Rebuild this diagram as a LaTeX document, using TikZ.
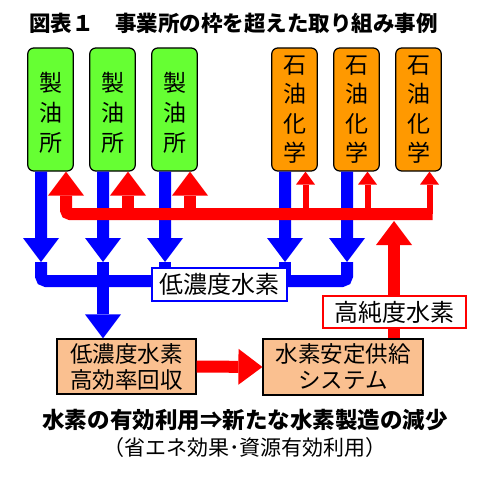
\documentclass[tikz,border=0pt]{standalone}
\usepackage{fontspec}
\setmainfont{Noto Sans CJK JP}
\usetikzlibrary{arrows.meta}
\definecolor{gfill}{HTML}{66FF33}
\definecolor{ofill}{HTML}{FF9900}
\definecolor{pfill}{HTML}{FAC090}
\definecolor{bl}{HTML}{0000FF}
\definecolor{rd}{HTML}{FF0000}
\begin{document}
\begin{tikzpicture}[x=1bp,y=-1bp,
  plant/.style={draw=black, line width=1.2bp, rounded corners=6bp, minimum width=45.5bp, minimum height=123bp, inner sep=0pt, align=center, font=\fontsize{23bp}{29.5bp}\selectfont},
  refinery/.style={plant, fill=gfill},
  chem/.style={plant, fill=ofill},
  vtext/.style={inner sep=0pt, align=center, font=\fontsize{23bp}{30bp}\selectfont},
  lower/.style={draw=black, line width=1.2bp, fill=pfill, inner sep=0pt, align=center, font=\fontsize{22.5bp}{26bp}\selectfont},
  tag/.style={fill=white, inner sep=0pt, font=\fontsize{24bp}{28bp}\selectfont},
  blueA/.style={draw=bl, line width=12bp, -{Triangle[width=36bp,length=24bp,line width=0pt]}},
  blueL/.style={draw=bl, line width=12bp},
  redA/.style={draw=rd, line width=12bp, -{Triangle[width=36bp,length=24bp,line width=0pt]}},
  redT/.style={draw=rd, line width=6bp, -{Triangle[width=19bp,length=13bp,line width=0pt]}},
  heading/.style={font=\bfseries\fontsize{21.5bp}{26bp}\selectfont, inner sep=0pt},
]
\useasboundingbox (0,0) rectangle (480,480);

\node[heading] (title) at (233.5,23) {図表１　事業所の枠を超えた取り組み事例};

\node[refinery] (g1) at (50.5,109.5) {};
\node[refinery] (g2) at (112.5,109.5) {};
\node[refinery] (g3) at (174.5,109.5) {};
\node[vtext] (g1t) at ([yshift=-3.5bp]g1.center) {製\\油\\所};
\node[vtext] (g2t) at ([yshift=-3.5bp]g2.center) {製\\油\\所};
\node[vtext] (g3t) at ([yshift=-3.5bp]g3.center) {製\\油\\所};
\node[chem] (o1) at (294.5,109.5) {石\\油\\化\\学};
\node[chem] (o2) at (356.5,109.5) {石\\油\\化\\学};
\node[chem] (o3) at (418.5,109.5) {石\\油\\化\\学};

\node[lower, minimum width=139bp, minimum height=55bp] (b1) at (126.5,366.5) {低濃度水素\\高効率回収};
\node[lower, minimum width=160bp, minimum height=56bp] (b2) at (343,367) {水素安定供給\\システム};

% blue (low concentration hydrogen)
\coordinate (t1) at (41,262);
\coordinate (t2) at (103,262);
\coordinate (t3) at (165,262);
\coordinate (t4) at (285,262);
\coordinate (t5) at (347,262);
\coordinate (bj) at (103,281);
\draw[blueA] ([xshift=-9.5bp]g1.south) -- (t1);
\draw[blueA] ([xshift=-9.5bp]g2.south) -- (t2);
\draw[blueA] ([xshift=-9.5bp]g3.south) -- (t3);
\draw[blueA] ([xshift=-9.5bp]o1.south) -- (t4);
\draw[blueA] ([xshift=-9.5bp]o2.south) -- (t5);
\draw[blueL, rounded corners=5bp] (t1) |- (bj) -| (t5);
\draw[blueL] (t2) -- (bj);
\draw[blueL] (t3) -- (t3 |- bj);
\draw[blueL] (t4) -- (t4 |- bj);
\draw[blueA] (bj) -- (b1.north -| bj);

% red (high purity hydrogen)
\coordinate (rr) at (432.5,214);
\coordinate (up) at (394,221);
\draw[redA, rounded corners=4bp] (rr) -| ([xshift=15.5bp]g1.south);
\draw[redA] ([xshift=15.5bp]g2.south |- rr) -- ([xshift=15.5bp]g2.south);
\draw[redA] ([xshift=15.5bp]g3.south |- rr) -- ([xshift=15.5bp]g3.south);
\draw[redT] ([xshift=11bp]o1.south |- rr) -- ([xshift=11bp]o1.south);
\draw[redT] ([xshift=11bp]o2.south |- rr) -- ([xshift=11bp]o2.south);
\draw[redT] ([xshift=11bp]o3.south |- rr) -- ([xshift=11bp]o3.south);
\draw[redA] (b2.north -| up) -- (up);
\draw[redA] (b1.east) -- (b2.west);

\node[tag, draw=bl, line width=2bp, minimum width=135bp, minimum height=33bp] (lowH) at (219.5,284.5) {低濃度水素};
\node[tag, draw=rd, line width=2.5bp, minimum width=143bp, minimum height=32bp] (highH) at (394.5,312) {高純度水素};

\node[heading, font=\bfseries\fontsize{22.5bp}{26bp}\selectfont] (sum) at (245,420) {水素の有効利用⇒新たな水素製造の減少};
\node[inner sep=0pt, font=\fontsize{21bp}{26bp}\selectfont] (note) at (245,448) {（省エネ効果･資源有効利用）};
\end{tikzpicture}
\end{document}
